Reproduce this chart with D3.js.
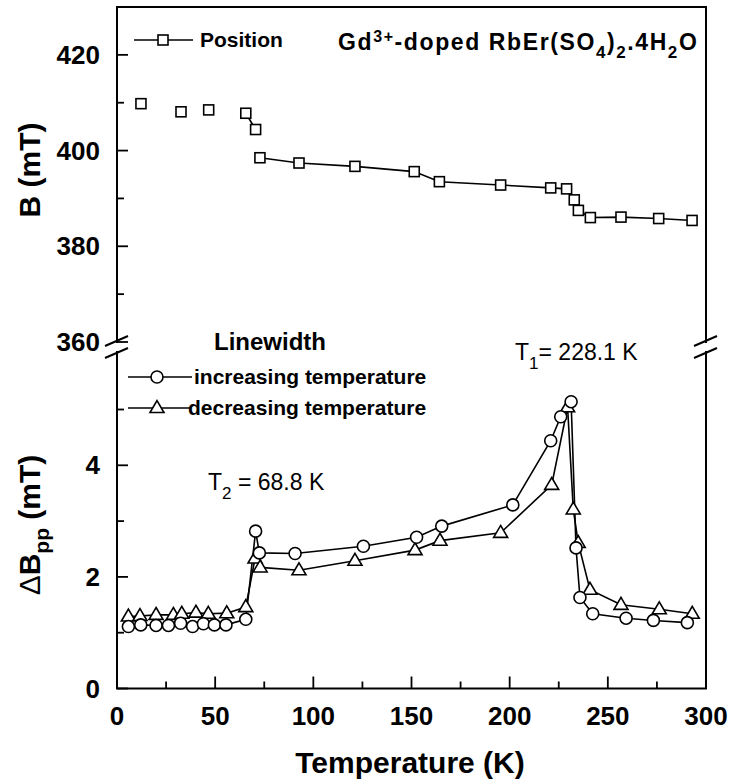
<!DOCTYPE html>
<html>
<head>
<meta charset="utf-8">
<script src="https://cdn.jsdelivr.net/npm/d3@7"></script>
<style>
  html, body { margin: 0; padding: 0; background: #fff; }
  svg { display: block; }
  text { font-family: "Liberation Sans", Arial, Helvetica, sans-serif; fill: #000; }
</style>
</head>
<body>
<svg id="chart" width="732" height="782"></svg>
<script>
// ---- data ----
const posT = [12.2, 32.6, 46.7, 65.6, 70.6, 72.8, 92.7, 121.2, 151.4, 164.2, 195.4, 220.9, 229.0, 232.9, 235.0, 241.1, 256.7, 275.9, 292.9];
const posB = [409.8, 408.1, 408.5, 407.8, 404.4, 398.5, 397.4, 396.7, 395.6, 393.5, 392.8, 392.2, 392.0, 389.7, 387.5, 386.0, 386.1, 385.8, 385.4];
const posGroup = [0, 1, 2, 3, 3, 4, 4, 4, 4, 4, 4, 4, 4, 4, 4, 4, 4, 4, 4];

const incT = [5.8, 12.1, 19.9, 26.2, 32.4, 38.5, 44.0, 49.6, 55.5, 65.6, 70.6, 72.5, 90.7, 125.5, 152.6, 165.4, 201.6, 220.9, 226.0, 231.3, 233.8, 235.8, 242.3, 259.3, 273.2, 290.5];
const incW = [1.11, 1.14, 1.13, 1.13, 1.17, 1.11, 1.16, 1.14, 1.14, 1.24, 2.82, 2.43, 2.42, 2.55, 2.71, 2.91, 3.29, 4.44, 4.87, 5.14, 2.52, 1.63, 1.34, 1.26, 1.22, 1.18];

const decT = [5.8, 11.7, 19.9, 28.7, 33.0, 40.2, 46.5, 55.9, 65.6, 70.3, 72.9, 92.7, 121.2, 151.8, 164.5, 195.4, 221.4, 229.5, 232.4, 234.9, 240.9, 256.7, 276.2, 293.0];
const decW = [1.29, 1.30, 1.32, 1.32, 1.34, 1.36, 1.34, 1.35, 1.46, 2.33, 2.17, 2.12, 2.29, 2.48, 2.65, 2.79, 3.65, 5.04, 3.21, 2.61, 1.77, 1.50, 1.42, 1.34];

const xMajor = [0, 50, 100, 150, 200, 250, 300];
const xMinor = [25, 75, 125, 175, 225, 275];
const bMajor = [360, 380, 400, 420];
const bMinor = [370, 390, 410];
const wMajor = [0, 2, 4];
const wMinor = [1, 3, 5];

// ---- layout ----
const L = 117, R = 706, T = 7, B = 688.5;
const breakY = 347;
const svg = d3.select("#chart");
const FONT = 26;

const x = d3.scaleLinear().domain([0, 300]).range([L, R]);
const yB = d3.scaleLinear().domain([360, 430]).range([342, T]);
const yW = d3.scaleLinear().domain([0, 6.1]).range([B, B - 6.1 * 55.8]);

// frame
const frame = svg.append("g").attr("stroke", "#000").attr("stroke-width", 2).attr("fill", "none");
frame.append("rect").attr("x", L).attr("y", T).attr("width", R - L).attr("height", B - T);

// ticks (inward)
const tk = svg.append("g").attr("stroke", "#000").attr("stroke-width", 1.8);
xMajor.forEach(v => tk.append("line").attr("x1", x(v)).attr("x2", x(v)).attr("y1", B).attr("y2", B - 12));
xMinor.forEach(v => tk.append("line").attr("x1", x(v)).attr("x2", x(v)).attr("y1", B).attr("y2", B - 7));
bMajor.forEach(v => tk.append("line").attr("x1", L).attr("x2", L + 11).attr("y1", yB(v)).attr("y2", yB(v)));
bMinor.forEach(v => tk.append("line").attr("x1", L).attr("x2", L + 7).attr("y1", yB(v)).attr("y2", yB(v)));
wMajor.forEach(v => tk.append("line").attr("x1", L).attr("x2", L + 11).attr("y1", yW(v)).attr("y2", yW(v)));
wMinor.forEach(v => tk.append("line").attr("x1", L).attr("x2", L + 7).attr("y1", yW(v)).attr("y2", yW(v)));

// tick labels
const tl = svg.append("g").attr("font-weight", "bold").attr("font-size", FONT);
xMajor.forEach(v => tl.append("text").attr("x", x(v)).attr("y", 725).attr("text-anchor", "middle").text(v));
bMajor.forEach(v => tl.append("text").attr("x", 100).attr("y", yB(v) + 9).attr("text-anchor", "end").text(v));
wMajor.forEach(v => tl.append("text").attr("x", 100).attr("y", yW(v) + 9).attr("text-anchor", "end").text(v));

// axis breaks
[L, R].forEach(ax => {
  svg.append("rect").attr("x", ax - 3).attr("y", breakY - 4).attr("width", 6).attr("height", 8).attr("fill", "#fff");
  const g = svg.append("g").attr("stroke", "#000").attr("stroke-width", 2);
  g.append("line").attr("x1", ax - 12).attr("y1", breakY - 1).attr("x2", ax + 11).attr("y2", breakY - 11);
  g.append("line").attr("x1", ax - 12).attr("y1", breakY + 11).attr("x2", ax + 11).attr("y2", breakY + 1);
});

// axis titles
const at = svg.append("g").attr("font-weight", "bold").attr("font-size", 30);
at.append("text").attr("transform", "translate(40,170) rotate(-90)").attr("text-anchor", "middle").text("B (mT)");
const dt = at.append("text").attr("transform", "translate(40,525) rotate(-90)").attr("text-anchor", "middle");
dt.append("tspan").attr("font-weight", "normal").text("\u0394");
dt.append("tspan").text("B");
dt.append("tspan").attr("font-size", 21).attr("dy", 9).text("pp");
dt.append("tspan").attr("dy", -9).text(" (mT)");
at.append("text").attr("x", 410).attr("y", 773).attr("text-anchor", "middle").text("Temperature (K)");

// markers
function square(g, cx, cy) {
  g.append("rect").attr("x", cx - 5).attr("y", cy - 5).attr("width", 10).attr("height", 10)
    .attr("fill", "#fff").attr("stroke", "#000").attr("stroke-width", 1.6);
}
function circle(g, cx, cy) {
  g.append("circle").attr("cx", cx).attr("cy", cy).attr("r", 6)
    .attr("fill", "#fff").attr("stroke", "#000").attr("stroke-width", 1.6);
}
function triangle(g, cx, cy) {
  const s = 7;
  g.append("path").attr("d", `M${cx},${cy - s * 1.05}L${cx + s},${cy + s * 0.65}L${cx - s},${cy + s * 0.65}Z`)
    .attr("fill", "#fff").attr("stroke", "#000").attr("stroke-width", 1.6);
}

const line = d3.line();
const lines = svg.append("g").attr("fill", "none").attr("stroke", "#000").attr("stroke-width", 1.6);

// position lines by group
d3.groups(posT.map((t, i) => ({ t, b: posB[i], g: posGroup[i] })), d => d.g).forEach(([, pts]) => {
  if (pts.length > 1) lines.append("path").attr("d", line(pts.map(p => [x(p.t), yB(p.b)])));
});
lines.append("path").attr("d", line(incT.map((t, i) => [x(t), yW(incW[i])])));
lines.append("path").attr("d", line(decT.map((t, i) => [x(t), yW(decW[i])])));

const mk = svg.append("g");
posT.forEach((t, i) => square(mk, x(t), yB(posB[i])));
decT.forEach((t, i) => triangle(mk, x(t), yW(decW[i])));
incT.forEach((t, i) => circle(mk, x(t), yW(incW[i])));

// legends
const lg = svg.append("g");
lg.append("line").attr("x1", 134).attr("x2", 193).attr("y1", 40).attr("y2", 40).attr("stroke", "#000").attr("stroke-width", 1.6);
square(lg, 163, 40);
lg.append("text").attr("x", 200).attr("y", 47).attr("font-weight", "bold").attr("font-size", 21).text("Position");

lg.append("text").attr("x", 270).attr("y", 350).attr("text-anchor", "middle").attr("font-weight", "bold").attr("font-size", 24).text("Linewidth");
lg.append("line").attr("x1", 128).attr("x2", 192).attr("y1", 377).attr("y2", 377).attr("stroke", "#000").attr("stroke-width", 1.6);
circle(lg, 157, 377);
lg.append("text").attr("x", 194).attr("y", 384).attr("font-weight", "bold").attr("font-size", 21).text("increasing temperature");
lg.append("line").attr("x1", 128).attr("x2", 190).attr("y1", 408).attr("y2", 408).attr("stroke", "#000").attr("stroke-width", 1.6);
triangle(lg, 157, 408);
lg.append("text").attr("x", 188).attr("y", 415).attr("font-weight", "bold").attr("font-size", 21).text("decreasing temperature");

// title
const tt = svg.append("text").attr("x", 338).attr("y", 50).attr("font-weight", "bold").attr("font-size", 23).attr("letter-spacing", 1.6);
tt.append("tspan").text("Gd");
tt.append("tspan").attr("font-size", 16).attr("dy", -8).text("3+");
tt.append("tspan").attr("dy", 8).text("-doped RbEr(SO");
tt.append("tspan").attr("font-size", 17).attr("dy", 8).text("4");
tt.append("tspan").attr("dy", -8).text(")");
tt.append("tspan").attr("font-size", 17).attr("dy", 8).text("2");
tt.append("tspan").attr("dy", -8).text(".4H");
tt.append("tspan").attr("font-size", 17).attr("dy", 8).text("2");
tt.append("tspan").attr("dy", -8).text("O");

// annotations
const an = svg.append("g").attr("font-size", 23);
const t2 = an.append("text").attr("x", 208).attr("y", 490);
t2.append("tspan").text("T");
t2.append("tspan").attr("font-size", 17).attr("dy", 9).text("2");
t2.append("tspan").attr("dy", -9).text(" = 68.8 K");
const t1 = an.append("text").attr("x", 515).attr("y", 360);
t1.append("tspan").text("T");
t1.append("tspan").attr("font-size", 17).attr("dy", 9).text("1");
t1.append("tspan").attr("dy", -9).text("= 228.1 K");
</script>
</body>
</html>
